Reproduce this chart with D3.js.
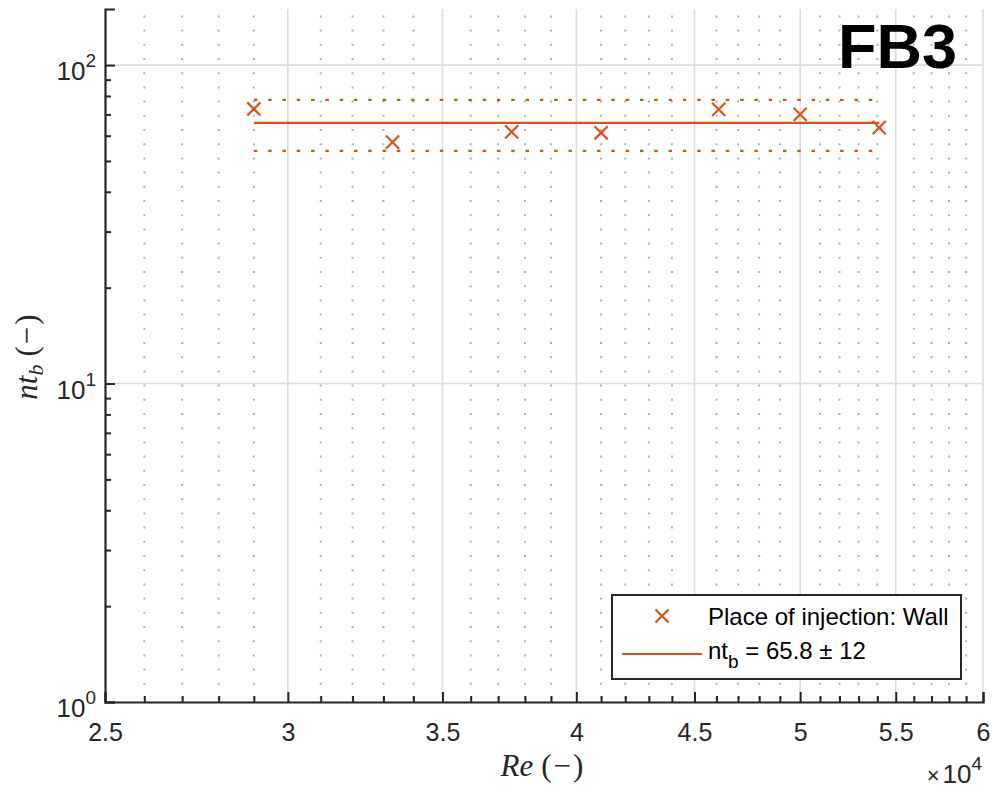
<!DOCTYPE html>
<html>
<head>
<meta charset="utf-8">
<script src="https://cdn.jsdelivr.net/npm/d3@7"></script>
<style>
  html, body { margin: 0; padding: 0; background: #fff; }
  svg { display: block; }
</style>
</head>
<body>
<div id="chart"></div>
<script>
// ---- data ----
const reValues = [29000, 33300, 37500, 41000, 46100, 50000, 54100];
const ntbValues = [72.8, 57.3, 61.7, 61.3, 72.6, 70.0, 63.6];
const fitMean = 65.8;
const fitStd = 12;
const xMajorTicks = [25000, 30000, 35000, 40000, 45000, 50000, 55000, 60000];
const xTickLabels = ["2.5", "3", "3.5", "4", "4.5", "5", "5.5", "6"];
const xMinorTicks = [26000, 27000, 28000, 29000, 31000, 32000, 33000, 34000, 36000, 37000, 38000, 39000,
  41000, 42000, 43000, 44000, 46000, 47000, 48000, 49000, 51000, 52000, 53000, 54000, 56000, 57000, 58000, 59000];
const yMajorTicks = [1, 10, 100];
const yTickExponents = ["0", "1", "2"];
const yMinorTicks = [2, 3, 4, 5, 6, 7, 8, 9, 20, 30, 40, 50, 60, 70, 80, 90];
const legendLabels = ["Place of injection: Wall", "nt", "b", " = 65.8 ± 12"];

(function () {
const W = 994, H = 794;
const pL = 105, pR = 983, pT = 9, pB = 702;
const orange = "#D95319";
const axisCol = "#262626";
const sans = "'Liberation Sans', Arial, Helvetica, sans-serif";
const serif = "'Liberation Serif', 'Times New Roman', serif";

const svg = d3.select("#chart").append("svg").attr("width", W).attr("height", H);

const x = d3.scaleLog().domain([25000, 60000]).range([pL, pR]);
const y = d3.scaleLog().domain([1, 150]).range([pB, pT]);

// minor grid (vertical dotted)
svg.append("g").selectAll("line").data(xMinorTicks).join("line")
  .attr("x1", d => x(d)).attr("x2", d => x(d))
  .attr("y1", pB - 3).attr("y2", pT)
  .attr("stroke", "#b0b0b0").attr("stroke-width", 2)
  .attr("stroke-dasharray", "2,12.2");

// major grid
svg.append("g").selectAll("line").data(xMajorTicks.slice(1)).join("line")
  .attr("x1", d => x(d)).attr("x2", d => x(d))
  .attr("y1", pB).attr("y2", pT)
  .attr("stroke", "#dcdcdc").attr("stroke-width", 1.6);
svg.append("g").selectAll("line").data(yMajorTicks.slice(1)).join("line")
  .attr("x1", pL).attr("x2", pR)
  .attr("y1", d => y(d)).attr("y2", d => y(d))
  .attr("stroke", "#dcdcdc").attr("stroke-width", 1.6);

// axes
const xAxis = d3.axisBottom(x).tickValues(xMajorTicks).tickSize(-10).tickFormat((d, i) => xTickLabels[i]).tickPadding(21);
const gx = svg.append("g").attr("transform", `translate(0,${pB})`).call(xAxis);
gx.select(".domain").attr("stroke", axisCol).attr("stroke-width", 2.2);
gx.selectAll(".tick line").attr("stroke", axisCol).attr("stroke-width", 2);
gx.selectAll(".tick text").attr("font-family", sans).attr("font-size", 25).attr("fill", axisCol);
const xAxisMinor = d3.axisBottom(x).tickValues(xMinorTicks).tickSize(-6).tickFormat("");
const gxm = svg.append("g").attr("transform", `translate(0,${pB})`).call(xAxisMinor);
gxm.select(".domain").remove();
gxm.selectAll(".tick line").attr("stroke", axisCol).attr("stroke-width", 2);

const yAxis = d3.axisLeft(y).tickValues(yMajorTicks).tickSize(-10).tickFormat("");
const gy = svg.append("g").attr("transform", `translate(${pL},0)`).call(yAxis);
gy.select(".domain").attr("stroke", axisCol).attr("stroke-width", 2.2);
gy.selectAll(".tick line").attr("stroke", axisCol).attr("stroke-width", 2);
const yAxisMinor = d3.axisLeft(y).tickValues(yMinorTicks).tickSize(-6).tickFormat("");
const gym = svg.append("g").attr("transform", `translate(${pL},0)`).call(yAxisMinor);
gym.select(".domain").remove();
gym.selectAll(".tick line").attr("stroke", axisCol).attr("stroke-width", 2);

// y tick labels 10^n
yMajorTicks.forEach((v, i) => {
  const t = svg.append("text").attr("x", 96).attr("y", y(v) + 15)
    .attr("text-anchor", "end").attr("font-family", sans).attr("fill", axisCol).attr("font-size", 26);
  t.append("tspan").text("10");
  t.append("tspan").attr("font-size", 19).attr("dy", -13).text(yTickExponents[i]);
});

// x10^4
const ex = svg.append("text").attr("x", 982).attr("y", 783).attr("text-anchor", "end")
  .attr("font-family", sans).attr("fill", axisCol).attr("font-size", 26);
ex.append("tspan").attr("font-size", 22).text("×");
ex.append("tspan").attr("dx", 3).text("10");
ex.append("tspan").attr("font-size", 19).attr("dy", -13).text("4");

// axis labels
const xl = svg.append("text").attr("x", 543).attr("y", 776).attr("text-anchor", "middle")
  .attr("font-family", serif).attr("font-size", 31).attr("fill", axisCol);
xl.append("tspan").attr("font-style", "italic").text("Re");
xl.append("tspan").attr("dx", 8).attr("letter-spacing", 2).text("(−)");

const yl = svg.append("text").attr("transform", "translate(37,356) rotate(-90)").attr("text-anchor", "middle")
  .attr("font-family", serif).attr("font-size", 31).attr("fill", axisCol);
yl.append("tspan").attr("font-style", "italic").text("nt");
yl.append("tspan").attr("font-style", "italic").attr("font-size", 22).attr("dy", 6).text("b");
yl.append("tspan").attr("dy", -6).attr("dx", 8).attr("letter-spacing", 2).text("(−)");

// fit lines
const xr = d3.extent(reValues);
const fitG = svg.append("g");
fitG.append("line").attr("x1", x(xr[0])).attr("x2", x(xr[1]))
  .attr("y1", y(fitMean)).attr("y2", y(fitMean))
  .attr("stroke", orange).attr("stroke-width", 2.2);
[fitMean + fitStd, fitMean - fitStd].forEach(v => {
  fitG.append("line").attr("x1", x(xr[0])).attr("x2", x(xr[1]))
    .attr("y1", y(v)).attr("y2", y(v))
    .attr("stroke", orange).attr("stroke-width", 2.2)
    .attr("stroke-dasharray", "3.5,10.8");
});

// markers
const cross = d3.symbol().type(d3.symbolX).size(115);
svg.append("g").selectAll("path").data(reValues).join("path")
  .attr("transform", (d, i) => `translate(${x(d)},${y(ntbValues[i])})`)
  .attr("d", cross).attr("fill", "none").attr("stroke", orange).attr("stroke-width", 2.2);

// legend
const lg = svg.append("g");
lg.append("rect").attr("x", 612).attr("y", 595).attr("width", 349).attr("height", 84)
  .attr("fill", "#fff").attr("stroke", axisCol).attr("stroke-width", 2);
lg.append("path").attr("transform", "translate(662,616)").attr("d", cross)
  .attr("fill", "none").attr("stroke", orange).attr("stroke-width", 2.2);
lg.append("text").attr("x", 708).attr("y", 625).attr("font-family", sans).attr("font-size", 24)
  .attr("fill", "#000").text(legendLabels[0]);
lg.append("line").attr("x1", 622).attr("x2", 702).attr("y1", 654).attr("y2", 654)
  .attr("stroke", orange).attr("stroke-width", 2.2);
const lt = lg.append("text").attr("x", 708).attr("y", 659).attr("font-family", sans).attr("font-size", 24).attr("fill", "#000");
lt.append("tspan").text(legendLabels[1]);
lt.append("tspan").attr("font-size", 19).attr("dy", 9).text(legendLabels[2]);
lt.append("tspan").attr("dy", -9).text(legendLabels[3]);

// title
svg.append("text").attr("x", 957).attr("y", 68).attr("text-anchor", "end")
  .attr("font-family", sans).attr("font-weight", "bold").attr("font-size", 63).attr("fill", "#000").text("FB3");
})();
</script>
</body>
</html>
